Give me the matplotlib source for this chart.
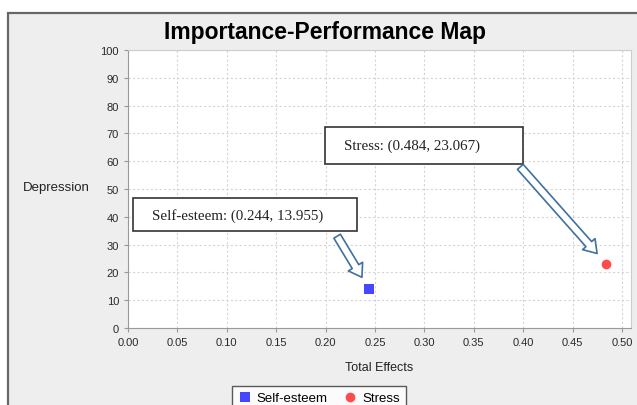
import matplotlib
matplotlib.use("Agg")
import matplotlib.pyplot as plt
from matplotlib.patches import Rectangle

# data
names = ["Self-esteem", "Stress"]
total_effects = [0.244, 0.484]
performance = [13.955, 23.067]
colors = ["#4646FF", "#FF4B4B"]
markers = ["s", "o"]
x_ticks = [0.00, 0.05, 0.10, 0.15, 0.20, 0.25, 0.30, 0.35, 0.40, 0.45, 0.50]
y_ticks = [0, 10, 20, 30, 40, 50, 60, 70, 80, 90, 100]

plt.rcParams["font.family"] = ["Liberation Sans", "DejaVu Sans"]

W, H = 637, 406
fig = plt.figure(figsize=(W / 100, H / 100), dpi=100)
fig.patch.set_facecolor("white")

# grey outer panel with a dark border
panel = Rectangle((8 / W, -0.05), 1.2, 1 - 14 / H + 0.05, transform=fig.transFigure,
                  facecolor="#EEEEEE", edgecolor="#666666", lw=1.6, zorder=-10)
fig.patches.append(panel)

ax = fig.add_axes([128 / W, 1 - 329 / H, 503 / W, 278 / H])
ax.set_facecolor("white")

for name, x, y, c, m in zip(names, total_effects, performance, colors, markers):
    ax.plot([x], [y], linestyle="none", marker=m, markersize=7, color=c,
            markeredgewidth=0, label=name, zorder=5)

ax.set_xlim(0, 0.509)
ax.set_ylim(0, 100)
ax.set_xticks(x_ticks)
ax.set_xticklabels([f"{t:.2f}" for t in x_ticks])
ax.set_yticks(y_ticks)
ax.tick_params(labelsize=8, labelcolor="#2A2A2A", color="#999999", length=3, width=0.8)
ax.grid(True, color="#D5D5D5", linestyle=(0, (2, 2)), lw=0.8)
for s in ["top", "right"]:
    ax.spines[s].set_color("#CCCCCC")
for s in ["left", "bottom"]:
    ax.spines[s].set_color("#999999")

ax.set_xlabel("Total Effects", fontsize=9, color="#222222", labelpad=10)
fig.text(56 / W, 1 - 188 / H, "Depression", fontsize=9.5, color="#222222",
         ha="center", va="center")

fig.text(325 / W, 1 - 33 / H, "Importance-Performance Map", fontsize=16.5,
         fontweight="bold", ha="center", va="center")

# callout boxes
boxes = [(0.010, 0.349, 0.445, 0.119), (0.392, 0.590, 0.394, 0.133)]
text_pos = [(0.048, 0.406), (0.429, 0.656)]
arrow_tail = [(-32, 53), (-86, 97)]
for name, x, y, box, tp, tail in zip(names, total_effects, performance, boxes, text_pos, arrow_tail):
    ax.add_patch(Rectangle(box[:2], box[2], box[3], transform=ax.transAxes,
                           facecolor="white", edgecolor="#333333", lw=1.2, zorder=6))
    ax.text(tp[0], tp[1], f"{name}: ({x:.3f}, {y:.3f})", transform=ax.transAxes,
            fontsize=10.8, family="Liberation Serif", color="#222222",
            ha="left", va="center", zorder=7)
    ax.annotate("", xy=(x, y), xytext=tail, textcoords="offset pixels",
                arrowprops=dict(arrowstyle="simple,head_length=0.9,head_width=1.2,tail_width=0.55",
                                fc="white", ec="#41719C", lw=1.2, shrinkA=0, shrinkB=10),
                zorder=7)

leg = fig.legend(loc="upper center", bbox_to_anchor=(319 / W, 1 - 380 / H), ncol=2,
                 fontsize=9.5, frameon=True, fancybox=False, handletextpad=0.4,
                 columnspacing=1.2, borderpad=0.5, handlelength=1.0)
leg.get_frame().set_edgecolor("#333333")
leg.get_frame().set_linewidth(1.0)

fig.savefig("out.png", dpi=100)
